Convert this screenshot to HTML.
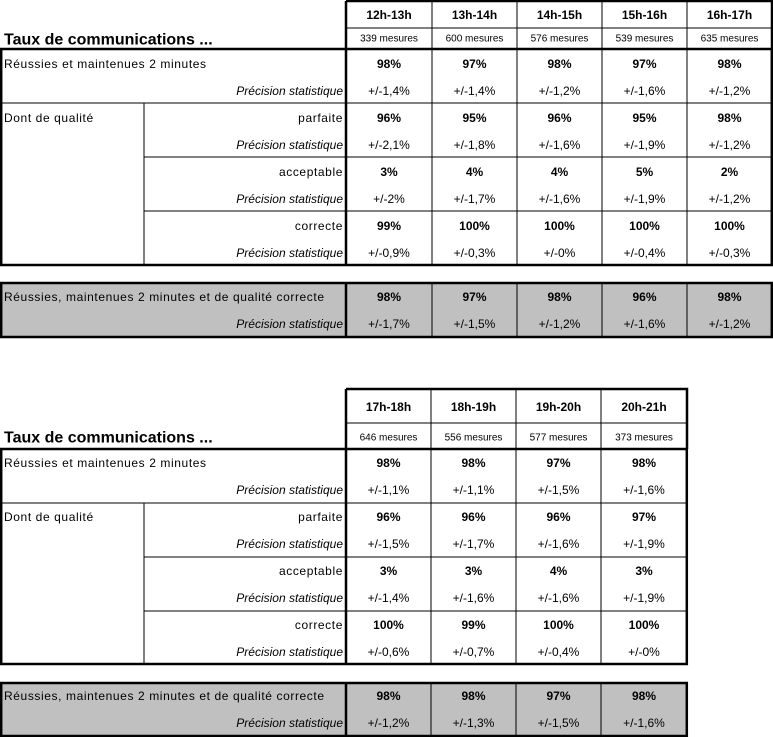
<!DOCTYPE html>
<html><head><meta charset="utf-8"><style>
html,body{margin:0;padding:0;background:#fff;}
svg{display:block;font-family:"Liberation Sans",Arial,sans-serif;}
.b{font-weight:bold;font-size:12px;}
.n{font-size:12px;}
.w{letter-spacing:0.6px;}
.s{font-size:10px;}
.i{font-size:12px;font-style:italic;}
.t{font-size:16px;font-weight:bold;}
</style></head><body>
<svg width="773" height="737" viewBox="0 0 773 737" xmlns="http://www.w3.org/2000/svg" xml:space="preserve">
<rect width="773" height="737" fill="#fff"/>
<rect x="0" y="282" width="772" height="55" fill="#c0c0c0"/>
<g stroke="#000" fill="none">
 <path d="M346 1H772V49" stroke-width="2.5"/>
 <path d="M346 28H772" stroke-width="1"/>
 <path d="M432 1V49M517 1V49M602 1V49M687 1V49" stroke-width="1"/>
 <rect x="1.2" y="49" width="770.6" height="216" stroke-width="2.5"/>
 <path d="M346 1V265" stroke-width="2.5"/>
 <path d="M432 49V265M517 49V265M602 49V265M687 49V265" stroke-width="1"/>
 <path d="M0 103H772M144 157H772M144 211H772M144 103V265" stroke-width="1"/>
 <rect x="1.2" y="283" width="770.6" height="54" stroke-width="2.5"/>
 <path d="M346 283V337" stroke-width="2.5"/>
 <path d="M432 283V337M517 283V337M602 283V337M687 283V337" stroke-width="1"/>
</g>
<g dominant-baseline="central">
<text class="t" x="4" y="40">Taux de communications ...</text>
<g text-anchor="middle">
<text class="b" x="389" y="15">12h-13h</text><text class="b" x="474.5" y="15">13h-14h</text><text class="b" x="559.5" y="15">14h-15h</text><text class="b" x="644.5" y="15">15h-16h</text><text class="b" x="729.5" y="15">16h-17h</text>
<text class="s" x="389" y="39">339 mesures</text><text class="s" x="474.5" y="39">600 mesures</text><text class="s" x="559.5" y="39">576 mesures</text><text class="s" x="644.5" y="39">539 mesures</text><text class="s" x="729.5" y="39">635 mesures</text>
<text class="b" x="389" y="64">98%</text><text class="b" x="474.5" y="64">97%</text><text class="b" x="559.5" y="64">98%</text><text class="b" x="644.5" y="64">97%</text><text class="b" x="729.5" y="64">98%</text>
<text class="n" x="389" y="91">+/-1,4%</text><text class="n" x="474.5" y="91">+/-1,4%</text><text class="n" x="559.5" y="91">+/-1,2%</text><text class="n" x="644.5" y="91">+/-1,6%</text><text class="n" x="729.5" y="91">+/-1,2%</text>
<text class="b" x="389" y="118">96%</text><text class="b" x="474.5" y="118">95%</text><text class="b" x="559.5" y="118">96%</text><text class="b" x="644.5" y="118">95%</text><text class="b" x="729.5" y="118">98%</text>
<text class="n" x="389" y="145">+/-2,1%</text><text class="n" x="474.5" y="145">+/-1,8%</text><text class="n" x="559.5" y="145">+/-1,6%</text><text class="n" x="644.5" y="145">+/-1,9%</text><text class="n" x="729.5" y="145">+/-1,2%</text>
<text class="b" x="389" y="172">3%</text><text class="b" x="474.5" y="172">4%</text><text class="b" x="559.5" y="172">4%</text><text class="b" x="644.5" y="172">5%</text><text class="b" x="729.5" y="172">2%</text>
<text class="n" x="389" y="199">+/-2%</text><text class="n" x="474.5" y="199">+/-1,7%</text><text class="n" x="559.5" y="199">+/-1,6%</text><text class="n" x="644.5" y="199">+/-1,9%</text><text class="n" x="729.5" y="199">+/-1,2%</text>
<text class="b" x="389" y="226">99%</text><text class="b" x="474.5" y="226">100%</text><text class="b" x="559.5" y="226">100%</text><text class="b" x="644.5" y="226">100%</text><text class="b" x="729.5" y="226">100%</text>
<text class="n" x="389" y="253">+/-0,9%</text><text class="n" x="474.5" y="253">+/-0,3%</text><text class="n" x="559.5" y="253">+/-0%</text><text class="n" x="644.5" y="253">+/-0,4%</text><text class="n" x="729.5" y="253">+/-0,3%</text>
<text class="b" x="389" y="297">98%</text><text class="b" x="474.5" y="297">97%</text><text class="b" x="559.5" y="297">98%</text><text class="b" x="644.5" y="297">96%</text><text class="b" x="729.5" y="297">98%</text>
<text class="n" x="389" y="324">+/-1,7%</text><text class="n" x="474.5" y="324">+/-1,5%</text><text class="n" x="559.5" y="324">+/-1,2%</text><text class="n" x="644.5" y="324">+/-1,6%</text><text class="n" x="729.5" y="324">+/-1,2%</text>
</g>
<text class="n w" x="4" y="64">Réussies et maintenues 2 minutes</text>
<text class="n w" x="4" y="118">Dont de qualité</text>
<text class="n w" x="4" y="297">Réussies, maintenues 2 minutes et de  qualité correcte</text>
<g text-anchor="end">
<text class="i" x="343" y="91">Précision statistique</text>
<text class="n w" x="343" y="118">parfaite</text>
<text class="i" x="343" y="145">Précision statistique</text>
<text class="n w" x="343" y="172">acceptable</text>
<text class="i" x="343" y="199">Précision statistique</text>
<text class="n w" x="343" y="226">correcte</text>
<text class="i" x="343" y="253">Précision statistique</text>
<text class="i" x="343" y="324">Précision statistique</text>
</g>
</g>

<rect x="0" y="682" width="687" height="54" fill="#c0c0c0"/>
<g stroke="#000" fill="none">
 <path d="M346 389H687V449" stroke-width="2.5"/>
 <path d="M346 423H687" stroke-width="1"/>
 <path d="M431 389V449M516 389V449M601 389V449" stroke-width="1"/>
 <rect x="1.2" y="449" width="685.6" height="215" stroke-width="2.5"/>
 <path d="M346 389V664" stroke-width="2.5"/>
 <path d="M431 449V664M516 449V664M601 449V664" stroke-width="1"/>
 <path d="M0 503H687M144 557H687M144 611H687M144 503V664" stroke-width="1"/>
 <rect x="1.2" y="683" width="685.6" height="53" stroke-width="2.5"/>
 <path d="M346 683V736" stroke-width="2.5"/>
 <path d="M431 683V736M516 683V736M601 683V736" stroke-width="1"/>
</g>
<g dominant-baseline="central">
<text class="t" x="4" y="438">Taux de communications ...</text>
<g text-anchor="middle">
<text class="b" x="388.5" y="407">17h-18h</text><text class="b" x="473.5" y="407">18h-19h</text><text class="b" x="558.5" y="407">19h-20h</text><text class="b" x="644" y="407">20h-21h</text>
<text class="s" x="388.5" y="438">646 mesures</text><text class="s" x="473.5" y="438">556 mesures</text><text class="s" x="558.5" y="438">577 mesures</text><text class="s" x="644" y="438">373 mesures</text>
<text class="b" x="388.5" y="463">98%</text><text class="b" x="473.5" y="463">98%</text><text class="b" x="558.5" y="463">97%</text><text class="b" x="644" y="463">98%</text>
<text class="n" x="388.5" y="490">+/-1,1%</text><text class="n" x="473.5" y="490">+/-1,1%</text><text class="n" x="558.5" y="490">+/-1,5%</text><text class="n" x="644" y="490">+/-1,6%</text>
<text class="b" x="388.5" y="517">96%</text><text class="b" x="473.5" y="517">96%</text><text class="b" x="558.5" y="517">96%</text><text class="b" x="644" y="517">97%</text>
<text class="n" x="388.5" y="544">+/-1,5%</text><text class="n" x="473.5" y="544">+/-1,7%</text><text class="n" x="558.5" y="544">+/-1,6%</text><text class="n" x="644" y="544">+/-1,9%</text>
<text class="b" x="388.5" y="571">3%</text><text class="b" x="473.5" y="571">3%</text><text class="b" x="558.5" y="571">4%</text><text class="b" x="644" y="571">3%</text>
<text class="n" x="388.5" y="598">+/-1,4%</text><text class="n" x="473.5" y="598">+/-1,6%</text><text class="n" x="558.5" y="598">+/-1,6%</text><text class="n" x="644" y="598">+/-1,9%</text>
<text class="b" x="388.5" y="625">100%</text><text class="b" x="473.5" y="625">99%</text><text class="b" x="558.5" y="625">100%</text><text class="b" x="644" y="625">100%</text>
<text class="n" x="388.5" y="652">+/-0,6%</text><text class="n" x="473.5" y="652">+/-0,7%</text><text class="n" x="558.5" y="652">+/-0,4%</text><text class="n" x="644" y="652">+/-0%</text>
<text class="b" x="388.5" y="696">98%</text><text class="b" x="473.5" y="696">98%</text><text class="b" x="558.5" y="696">97%</text><text class="b" x="644" y="696">98%</text>
<text class="n" x="388.5" y="723">+/-1,2%</text><text class="n" x="473.5" y="723">+/-1,3%</text><text class="n" x="558.5" y="723">+/-1,5%</text><text class="n" x="644" y="723">+/-1,6%</text>
</g>
<text class="n w" x="4" y="463">Réussies et maintenues 2 minutes</text>
<text class="n w" x="4" y="517">Dont de qualité</text>
<text class="n w" x="4" y="696">Réussies, maintenues 2 minutes et de  qualité correcte</text>
<g text-anchor="end">
<text class="i" x="343" y="490">Précision statistique</text>
<text class="n w" x="343" y="517">parfaite</text>
<text class="i" x="343" y="544">Précision statistique</text>
<text class="n w" x="343" y="571">acceptable</text>
<text class="i" x="343" y="598">Précision statistique</text>
<text class="n w" x="343" y="625">correcte</text>
<text class="i" x="343" y="652">Précision statistique</text>
<text class="i" x="343" y="723">Précision statistique</text>
</g>
</g>
</svg>
</body></html>
